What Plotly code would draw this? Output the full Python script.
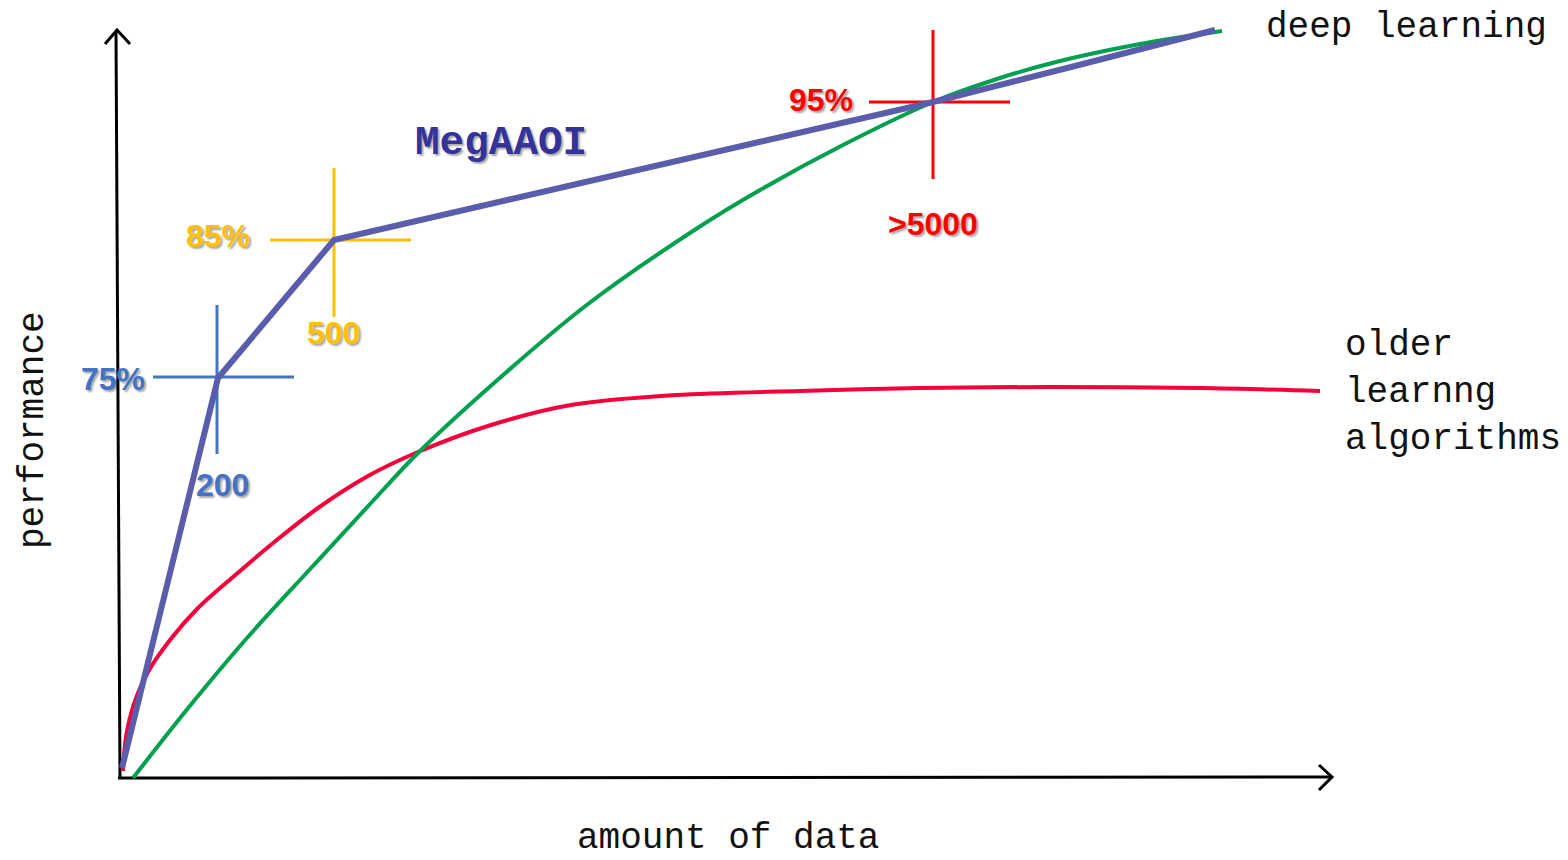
import plotly.graph_objects as go

# ---- data (chart units: x = amount of data, y = performance height above axis) ----
megaaoi_x = [4, 100, 216, 459, 639, 815, 957, 1097]
megaaoi_y = [10, 400, 538, 594, 636, 676, 712, 748]

deep_x = [15, 71, 129, 194, 253, 300, 384, 470, 578, 642, 725, 815, 882, 942, 1022, 1104]
deep_y = [0, 71, 140, 211, 275, 325, 402, 474, 549, 588, 633, 676, 700, 717, 734, 747]

older_x = [5, 8, 16, 30, 52, 80, 115, 160, 200, 250, 300, 373, 453, 558, 682, 802, 932, 1082, 1202]
older_y = [7, 41, 74, 106, 138, 170, 201, 239, 270, 302, 326, 353, 373, 383, 387, 390, 391, 390, 387]

# crosshair markers: centre, labels, colour
mark_x = [99, 216, 815]
mark_y = [401, 538, 676]
mark_xlabels = ["200", "500", ">5000"]
mark_ylabels = ["75%", "85%", "95%"]
mark_colors = ["#4472C4", "#FFC000", "#FF0000"]

# axis arrows
yaxis_line_x = [2, -2]
yaxis_line_y = [0, 746]
yarrow_x = [-13, -1, 12]
yarrow_y = [734, 748, 734]
xaxis_line_x = [0, 1214]
xaxis_line_y = [0, 1]
xarrow_x = [1201, 1214, 1201]
xarrow_y = [13, 1, -12]

# ---- styles ----
ARM_L, ARM_R, ARM_U, ARM_D = 64, 77, 72, 77
TYPE_FONT = "Courier New, Liberation Mono, monospace"
LABEL_FONT = "Liberation Sans, Arial, sans-serif"
SHADOW = "2px 2px 2px rgba(0,0,0,0.35)"

fig = go.Figure()

# axes
for ax_x, ax_y in [(yaxis_line_x, yaxis_line_y), (yarrow_x, yarrow_y),
                   (xaxis_line_x, xaxis_line_y), (xarrow_x, xarrow_y)]:
    fig.add_trace(go.Scatter(x=ax_x, y=ax_y, mode="lines",
                             line=dict(color="black", width=3)))

# crosshairs
for cx, cy, col in zip(mark_x, mark_y, mark_colors):
    fig.add_trace(go.Scatter(x=[cx - ARM_L, cx + ARM_R], y=[cy, cy], mode="lines",
                             line=dict(color=col, width=3)))
    fig.add_trace(go.Scatter(x=[cx, cx], y=[cy + ARM_U, cy - ARM_D], mode="lines",
                             line=dict(color=col, width=3)))

# curves
fig.add_trace(go.Scatter(x=older_x, y=older_y, mode="lines",
                         line=dict(color="#F5003A", width=4, shape="spline", smoothing=0.9)))
fig.add_trace(go.Scatter(x=deep_x, y=deep_y, mode="lines",
                         line=dict(color="#00A04F", width=4, shape="spline", smoothing=1.0)))
fig.add_trace(go.Scatter(x=megaaoi_x, y=megaaoi_y, mode="lines",
                         line=dict(color="#5A5CAC", width=6)))

ann = []
ylab_dx = [-104, -116, -112]
ylab_dy = [-2, 4, 2]
xlab_dx = [5, -1, 0]
xlab_dy = [-108, -93, -122]
for i in range(3):
    ann.append(dict(x=mark_x[i] + ylab_dx[i], y=mark_y[i] + ylab_dy[i], text=mark_ylabels[i],
                    showarrow=False, xanchor="center", yanchor="middle",
                    font=dict(family=LABEL_FONT, size=32, color=mark_colors[i],
                              weight="bold", shadow=SHADOW)))
    ann.append(dict(x=mark_x[i] + xlab_dx[i], y=mark_y[i] + xlab_dy[i], text=mark_xlabels[i],
                    showarrow=False, xanchor="center", yanchor="middle",
                    font=dict(family=LABEL_FONT, size=32, color=mark_colors[i],
                              weight="bold", shadow=SHADOW)))

ann.append(dict(x=383, y=635, text="MegAAOI", showarrow=False, xanchor="center", yanchor="middle",
                font=dict(family=TYPE_FONT, size=41, color="#33339A", weight="bold", shadow=SHADOW)))
ann.append(dict(x=1288, y=751, text="deep learning", showarrow=False, xanchor="center",
                yanchor="middle", font=dict(family=TYPE_FONT, size=36, color="#111111")))
ann.append(dict(x=1225, y=386, text="older<br>learnng<br>algorithms", showarrow=False,
                xanchor="left", yanchor="middle", align="left",
                font=dict(family=TYPE_FONT, size=36, color="#111111")))
ann.append(dict(x=610, y=-60, text="amount of data", showarrow=False, xanchor="center",
                yanchor="middle", borderpad=0,
                font=dict(family=TYPE_FONT, size=36, color="#111111")))
ann.append(dict(x=-85, y=348, text="performance", showarrow=False, xanchor="center",
                yanchor="middle", textangle=-90,
                font=dict(family=TYPE_FONT, size=36, color="#111111")))

# page has an 8px body margin, so the figure is 1560x852 and ranges are offset
fig.update_layout(
    width=1560, height=852, autosize=False,
    margin=dict(l=0, r=0, t=0, b=0, pad=0),
    paper_bgcolor="white", plot_bgcolor="white",
    showlegend=False, hovermode=False,
    annotations=ann,
    xaxis=dict(range=[-110, 1450], visible=False, fixedrange=True),
    yaxis=dict(range=[-82, 770], visible=False, fixedrange=True),
)

fig.write_html("out.html", config={"displayModeBar": False})
